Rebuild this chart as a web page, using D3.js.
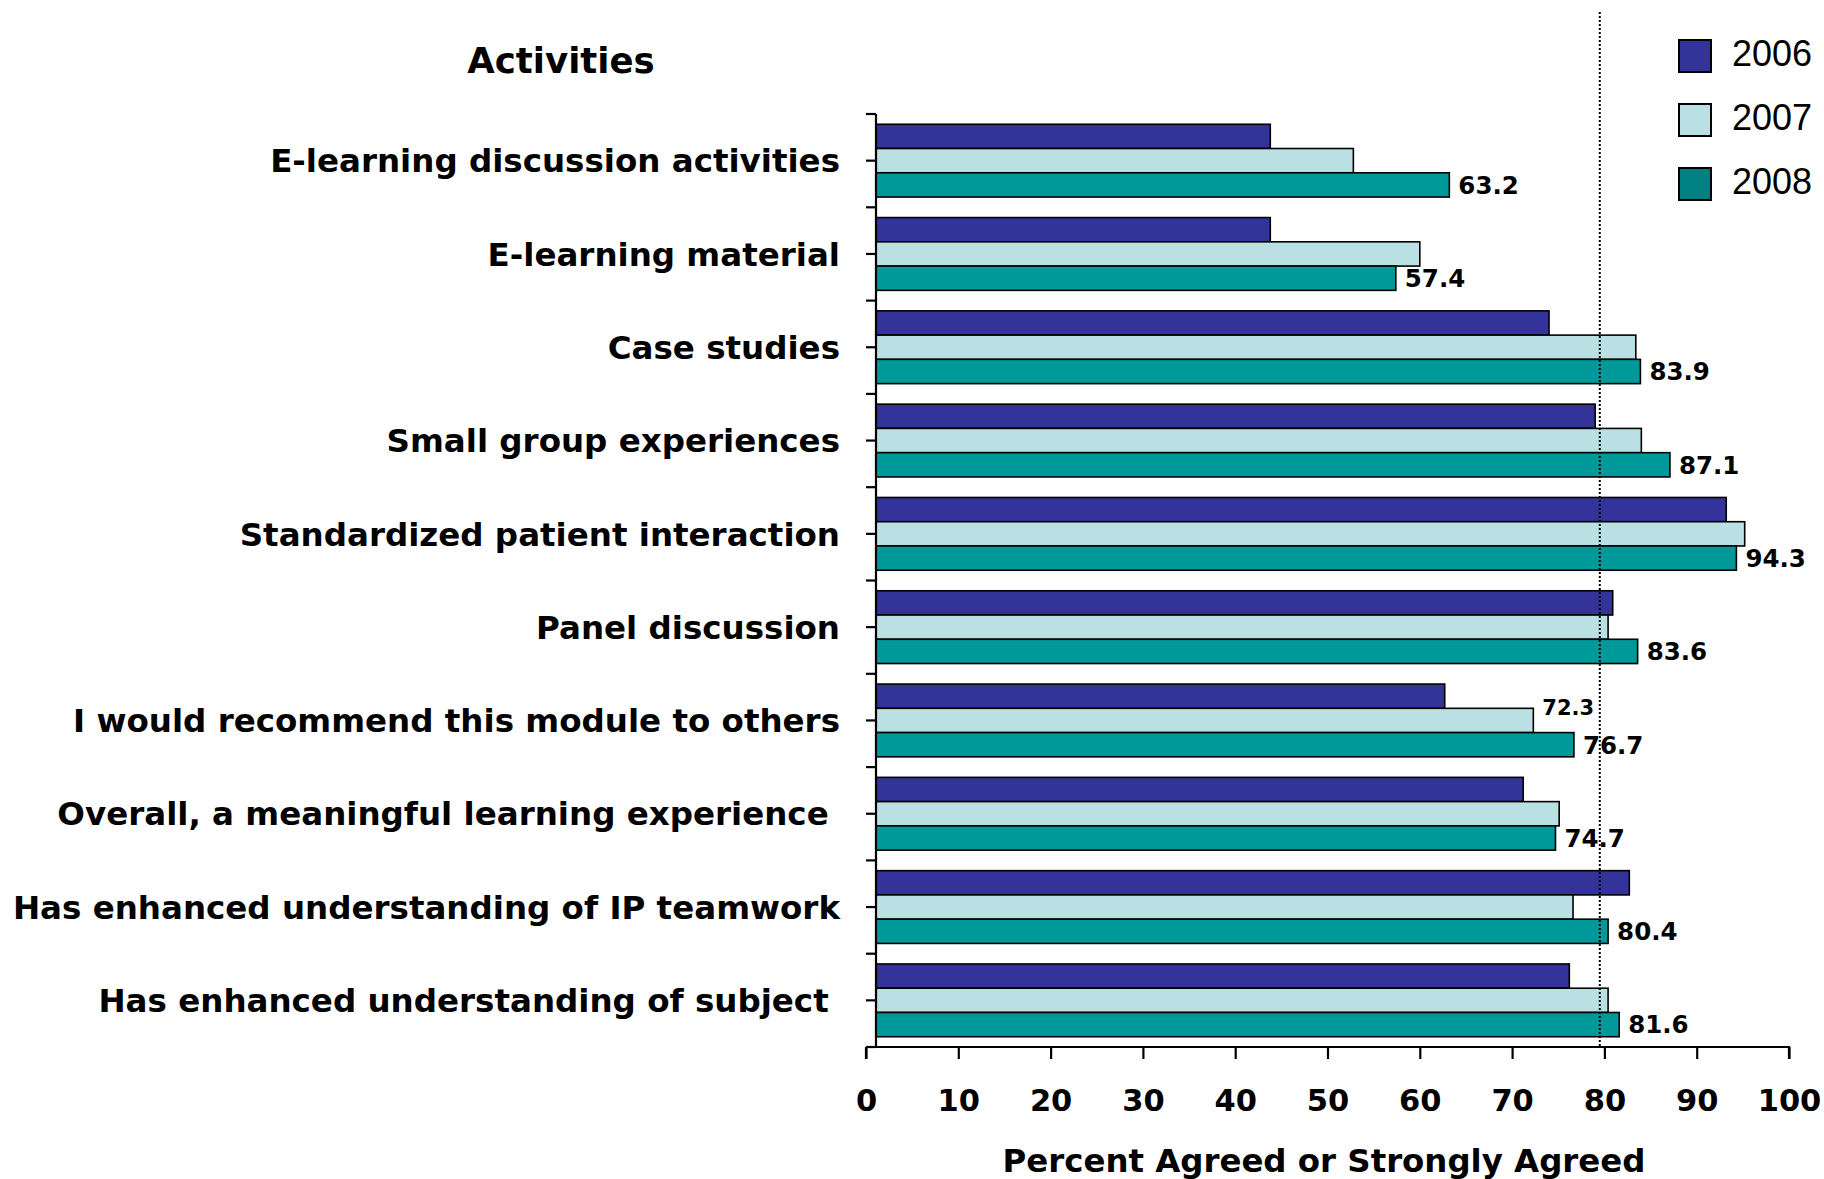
<!DOCTYPE html>
<html>
<head>
<meta charset="utf-8">
<script src="https://cdn.jsdelivr.net/npm/d3@7"></script>
<style>
  html, body { margin: 0; padding: 0; background: #ffffff; }
  svg { display: block; }
</style>
</head>
<body>
<svg id="chart" width="1824" height="1179"></svg>
<script>
// Survey results: share of students who agreed or strongly agreed, by activity and year
const categories = [
  "E-learning discussion activities",
  "E-learning material",
  "Case studies",
  "Small group experiences",
  "Standardized patient interaction",
  "Panel discussion",
  "I would recommend this module to others",
  "Overall, a meaningful learning experience\u00a0",
  "Has enhanced understanding of IP teamwork",
  "Has enhanced understanding of subject\u00a0"
];
const years = ["2006", "2007", "2008"];
const values2006 = [43.8, 43.8, 74.0, 79.0, 93.2, 80.9, 62.7, 71.2, 82.7, 76.2];
const values2007 = [52.8, 60.0, 83.4, 84.0, 95.2, 80.4, 72.3, 75.1, 76.6, 80.4];
const values2008 = [63.2, 57.4, 83.9, 87.1, 94.3, 83.6, 76.7, 74.7, 80.4, 81.6];
const xTicks = [0, 10, 20, 30, 40, 50, 60, 70, 80, 90, 100];
const referenceValue = 79.5;
// value labels shown beside bars: every 2008 bar plus one 2007 bar
const labelled2007 = ["I would recommend this module to others"];

const seriesByYear = { "2006": values2006, "2007": values2007, "2008": values2008 };
const barFill = { "2006": "#333399", "2007": "#BBE0E3", "2008": "#009999" };
const swatchFill = { "2006": "#333399", "2007": "#BBE0E3", "2008": "#008080" };

const rows = categories.map((c, i) => ({
  category: c,
  bars: years.map(y => ({ year: y, value: seriesByYear[y][i], category: c }))
}));

const svg = d3.select("#chart");
const x = d3.scaleLinear().domain([0, 100]).range([866, 1789]);
const y = d3.scaleBand().domain(categories).range([114, 1047])
  .paddingInner(0.22).paddingOuter(0.11);
const yInner = d3.scaleBand().domain(years).range([0, y.bandwidth()]);
const axisGap = 10;                 // vertical axis sits just right of the zero tick
const x0 = x(0) + axisGap;
const axisY = y.range()[1];

// bars
const groups = svg.append("g").selectAll("g").data(rows).join("g")
  .attr("transform", d => `translate(0,${y(d.category)})`);
groups.selectAll("rect").data(d => d.bars).join("rect")
  .attr("x", x0)
  .attr("y", d => yInner(d.year))
  .attr("width", d => x(d.value) - x0)
  .attr("height", yInner.bandwidth())
  .attr("fill", d => barFill[d.year])
  .attr("stroke", "#000")
  .attr("stroke-width", 1.6);

// value labels
const labelData = [];
rows.forEach(r => r.bars.forEach(b => {
  if (b.year === "2008" || (b.year === "2007" && labelled2007.includes(b.category))) labelData.push(b);
}));
svg.append("g").selectAll("text").data(labelData).join("text")
  .attr("x", d => x(d.value) + 9)
  .attr("y", d => y(d.category) + yInner(d.year) + yInner.bandwidth() / 2 - (d.year === "2007" ? 13 : 0))
  .attr("dy", "0.36em")
  .attr("font-family", "'DejaVu Sans', Verdana, sans-serif")
  .attr("font-weight", "bold")
  .attr("font-size", d => d.year === "2007" ? 21 : 24.5)
  .attr("fill", "#000")
  .text(d => d.value.toFixed(1));

// dotted reference line
svg.append("line")
  .attr("x1", x(referenceValue)).attr("x2", x(referenceValue))
  .attr("y1", 12).attr("y2", axisY)
  .attr("stroke", "#000").attr("stroke-width", 2)
  .attr("stroke-dasharray", "2,2");

// x axis
const xAxis = svg.append("g").attr("transform", `translate(0,${axisY})`)
  .call(d3.axisBottom(x).tickValues(xTicks).tickSize(12).tickPadding(30).tickFormat(d3.format("d")));
xAxis.select(".domain").attr("stroke", "#000").attr("stroke-width", 2.2)
  .attr("d", `M${x(0)},0H${x(100)}V12M${x(0)},0V12`);
xAxis.selectAll(".tick line").attr("stroke", "#000").attr("stroke-width", 2.2);
xAxis.selectAll(".tick text")
  .attr("font-family", "'DejaVu Sans', Verdana, sans-serif")
  .attr("font-weight", "bold").attr("font-size", 30.5).attr("fill", "#000");

// y axis: ticks at band edges and band centres
const yTickPositions = d3.range(0, categories.length * 2 + 1).map(k => y.range()[0] + k * y.step() / 2);
const yAxis = svg.append("g");
yAxis.append("line")
  .attr("x1", x0).attr("x2", x0).attr("y1", y.range()[0]).attr("y2", axisY)
  .attr("stroke", "#000").attr("stroke-width", 2.2);
yAxis.selectAll(".ytick").data(yTickPositions).join("line")
  .attr("class", "ytick")
  .attr("x1", x0 - 10).attr("x2", x0)
  .attr("y1", d => d).attr("y2", d => d)
  .attr("stroke", "#000").attr("stroke-width", 2.2);

// category labels
svg.append("g").selectAll("text").data(categories).join("text")
  .attr("x", 840)
  .attr("y", d => y(d) + y.bandwidth() / 2)
  .attr("dy", "0.36em")
  .attr("text-anchor", "end")
  .attr("xml:space", "preserve")
  .attr("font-family", "'DejaVu Sans', Verdana, sans-serif")
  .attr("font-weight", "bold")
  .attr("font-size", 32.5)
  .attr("fill", "#000")
  .text(d => d);

// titles
svg.append("text")
  .attr("x", 561).attr("y", 73)
  .attr("text-anchor", "middle")
  .attr("font-family", "'DejaVu Sans', Verdana, sans-serif")
  .attr("font-weight", "bold").attr("font-size", 35.5).attr("fill", "#000")
  .text("Activities");

svg.append("text")
  .attr("x", 1324).attr("y", 1172)
  .attr("text-anchor", "middle")
  .attr("font-family", "'DejaVu Sans', Verdana, sans-serif")
  .attr("font-weight", "bold").attr("font-size", 32.4).attr("fill", "#000")
  .text("Percent Agreed or Strongly Agreed");

// legend
const legend = svg.append("g").selectAll("g").data(years).join("g")
  .attr("transform", (d, i) => `translate(1679,${40 + i * 64})`);
legend.append("rect")
  .attr("width", 32).attr("height", 32)
  .attr("fill", d => swatchFill[d])
  .attr("stroke", "#000").attr("stroke-width", 2);
legend.append("text")
  .attr("x", 53).attr("y", 13).attr("dy", "0.36em")
  .attr("font-family", "'Liberation Sans', Arial, sans-serif")
  .attr("font-size", 36).attr("fill", "#000")
  .text(d => d);
</script>
</body>
</html>
